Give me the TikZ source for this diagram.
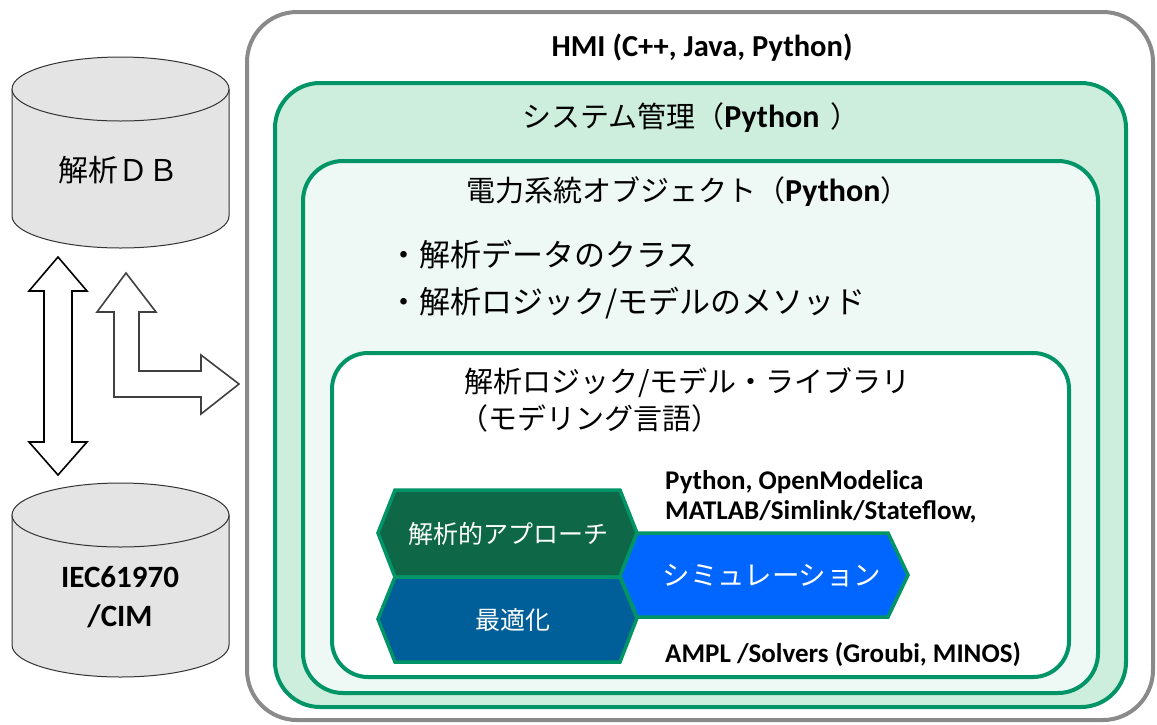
\documentclass[tikz,border=0pt]{standalone}
\usepackage{fontspec}
\setmainfont{Carlito}
\newfontfamily\jp{Noto Sans CJK JP}
\definecolor{grnline}{RGB}{0,148,102}
\definecolor{sysfill}{RGB}{205,238,221}
\definecolor{objfill}{RGB}{238,248,244}
\definecolor{hexgreen}{RGB}{14,104,72}
\definecolor{hexblue}{RGB}{0,94,152}
\definecolor{simblue}{RGB}{0,102,255}
\definecolor{outergray}{RGB}{138,138,138}
\definecolor{dbfill}{RGB}{228,228,228}
\newcommand{\pyb}[1]{{\rmfamily\bfseries\fontsize{32}{35}\selectfont #1}}
\tikzset{
  frame/.style={line width=4pt, rounded corners=#1},
  hexbox/.style={draw=grnline, line width=3.5pt, line join=miter},
  hextext/.style={text=white, font=\jp\fontsize{25}{30}\selectfont, inner sep=0pt},
  jptext/.style={font=\jp\fontsize{29}{35}\selectfont, inner sep=0pt, anchor=west},
  latin/.style={font=\bfseries\fontsize{27}{32}\selectfont, inner sep=0pt, anchor=west},
  dbbody/.style={fill=dbfill, draw=black!80, line width=1pt},
  blockarrow/.style={fill=white, line width=1.6pt, line join=miter},
}
\begin{document}
\begin{tikzpicture}[x=1pt,y=-1pt]
\useasboundingbox (0,0) rectangle (1157,724);

% containers
\draw[frame=50pt, draw=outergray, fill=white] (247,12) rectangle (1153,720);
\draw[frame=45pt, draw=grnline, fill=sysfill] (275,83) rectangle (1126,707);
\draw[frame=40pt, draw=grnline, fill=objfill] (303,161) rectangle (1098,693);
\draw[frame=36pt, draw=grnline, fill=white] (332,353) rectangle (1069,677);

\node[font=\bfseries\fontsize{30.5}{36}\selectfont, inner sep=0pt] (hmi) at (702,48) {HMI (C++, Java, Python)};
\node[jptext] (sys) at (522,118) {システム管理（\pyb{Python\,\,}）};
\node[jptext] (obj) at (466,192) {電力系統オブジェクト（\pyb{Python}）};
\node[jptext, font=\jp\fontsize{31}{36}\selectfont] (b1) at (388,255) {・解析データのクラス};
\node[jptext, font=\jp\fontsize{31}{36}\selectfont] (b2) at (388,303) {・解析ロジック/モデルのメソッド};
\node[jptext] (lib1) at (464,383) {解析ロジック/モデル・ライブラリ};
\node[jptext] (lib2) at (459,418) {（モデリング言語）};

% hexagons
\draw[hexbox, fill=hexgreen] (378,533) -- (395,490) -- (620,490) -- (637,533) -- (620,577) -- (395,577) -- cycle;
\draw[hexbox, fill=hexblue] (378,619) -- (395,577) -- (620,577) -- (637,618) -- (620,662) -- (395,662) -- cycle;
\draw[hexbox, fill=simblue] (620,576) -- (637,533) -- (888,533) -- (908,575) -- (888,617) -- (637,617) -- cycle;
\node[hextext] (ana) at (508,534) {解析的アプローチ};
\node[hextext] (opt) at (513,620) {最適化};
\node[hextext, font=\jp\fontsize{27.5}{32}\selectfont] (sim) at (772,576) {シミュレーション};

\node[latin] (t1) at (665,482) {Python, OpenModelica};
\node[latin] (t2) at (665,512) {MATLAB/Simlink/Stateflow,};
\node[latin] (t3) at (665,655) {AMPL /Solvers (Groubi, MINOS)};

% databases
\draw[dbbody] (12,89) -- (12,216) arc[start angle=180, end angle=360, x radius=108.5pt, y radius=32pt] -- (229,89) -- cycle;
\draw[dbbody] (120.5,89) ellipse [x radius=108.5, y radius=32];
\node[font=\jp\fontsize{30}{36}\selectfont, inner sep=0pt] (db1) at (118,170) {解析ＤＢ};

\draw[dbbody] (12,515) -- (12,645) arc[start angle=180, end angle=360, x radius=108.5pt, y radius=32pt] -- (229,515) -- cycle;
\draw[dbbody] (120.5,515) ellipse [x radius=108.5, y radius=32];
\node[font=\bfseries\fontsize{31}{39}\selectfont, align=center, inner sep=0pt] (db2) at (120,597) {IEC61970\\/CIM};

% block arrows
\draw[blockarrow, draw=black] (58,257) -- (87,291) -- (72,291) -- (72,442) -- (87,442) -- (58,475) -- (29,442) -- (44,442) -- (44,291) -- (29,291) -- cycle;
\draw[blockarrow, draw=black!75] (126,273) -- (156,312) -- (139,312) -- (139,371) -- (201,371) -- (201,355) -- (239,384) -- (201,414) -- (201,397) -- (114,397) -- (114,312) -- (97,312) -- cycle;
\end{tikzpicture}
\end{document}
